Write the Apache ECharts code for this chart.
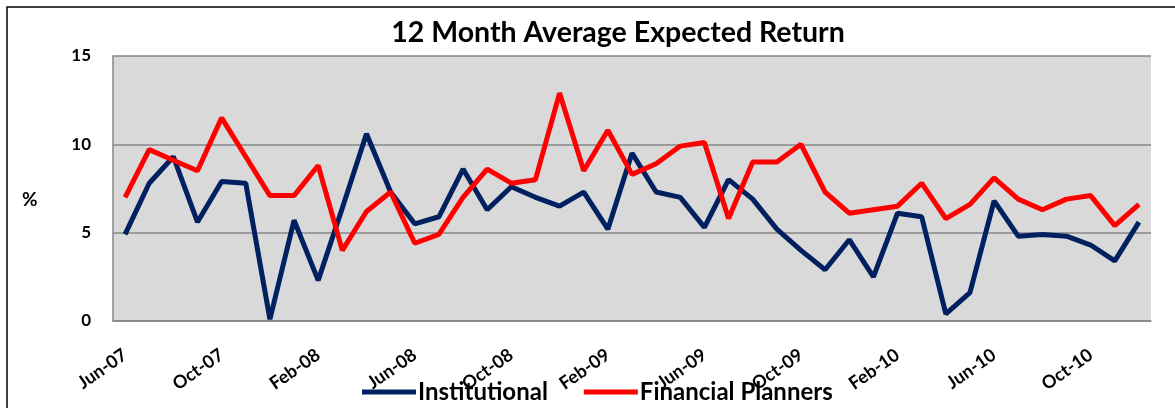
<!DOCTYPE html>
<html>
<head>
<meta charset="utf-8">
<script src="https://cdn.jsdelivr.net/npm/echarts@6/dist/echarts.min.js"></script>
<style>
  html, body { margin: 0; padding: 0; background: #fff; }
  #chart { width: 1175px; height: 408px; }
</style>
</head>
<body>
<div id="chart"></div>
<script>
// monthly, Jun-07 .. Dec-10
var months = [
  'Jun-07', 'Jul-07', 'Aug-07', 'Sep-07', 'Oct-07', 'Nov-07', 'Dec-07',
  'Jan-08', 'Feb-08', 'Mar-08', 'Apr-08', 'May-08', 'Jun-08', 'Jul-08', 'Aug-08', 'Sep-08', 'Oct-08', 'Nov-08', 'Dec-08',
  'Jan-09', 'Feb-09', 'Mar-09', 'Apr-09', 'May-09', 'Jun-09', 'Jul-09', 'Aug-09', 'Sep-09', 'Oct-09', 'Nov-09', 'Dec-09',
  'Jan-10', 'Feb-10', 'Mar-10', 'Apr-10', 'May-10', 'Jun-10', 'Jul-10', 'Aug-10', 'Sep-10', 'Oct-10', 'Nov-10', 'Dec-10'
]
var institutional = [
  4.9, 7.8, 9.3, 5.6, 7.9, 7.8, 0.1,
  5.7, 2.3, 6.4, 10.6, 7.3, 5.5, 5.9, 8.6, 6.3, 7.6, 7.0, 6.5,
  7.3, 5.2, 9.5, 7.3, 7.0, 5.3, 8.0, 6.9, 5.2, 4.0, 2.9, 4.6,
  2.5, 6.1, 5.9, 0.4, 1.6, 6.8, 4.8, 4.9, 4.8, 4.3, 3.4, 5.6
]
var planners = [
  7.0, 9.7, 9.1, 8.5, 11.5, 9.3, 7.1,
  7.1, 8.8, 4.0, 6.2, 7.3, 4.4, 4.9, 7.0, 8.6, 7.8, 8.0, 12.9,
  8.5, 10.8, 8.3, 8.9, 9.9, 10.1, 5.8, 9.0, 9.0, 10.0, 7.3, 6.1,
  6.3, 6.5, 7.8, 5.8, 6.6, 8.1, 6.9, 6.3, 6.9, 7.1, 5.4, 6.6
]
var seriesNames = ['Institutional', 'Financial Planners']

var font = 'Lato'
var chart = echarts.init(document.getElementById('chart'))
chart.setOption({
  animation: false,
  textStyle: { fontFamily: font },
  graphic: [{
    // outer chart border (cut off at right/bottom)
    type: 'rect',
    shape: { x: 7, y: 7, width: 1300, height: 600 },
    style: { fill: null, stroke: '#000', lineWidth: 1.5 },
    silent: true
  }, {
    type: 'text',
    left: 22, top: 190,
    style: { text: '%', font: 'bold 19px ' + font, fill: '#000' }
  }],
  title: {
    text: '12 Month Average Expected Return',
    left: 613, top: 13, textAlign: 'center',
    textStyle: { fontFamily: font, fontWeight: 'bold', fontSize: 28.5, color: '#000' }
  },
  legend: {
    data: seriesNames,
    left: 357, top: 375,
    icon: 'rect',
    itemWidth: 54, itemHeight: 5,
    itemGap: 36,
    textStyle: { fontFamily: font, fontWeight: 'bold', fontSize: 24, color: '#000', padding: [0, 0, 0, -3] }
  },
  grid: {
    left: 113, right: 24, top: 56, bottom: 87,
    show: true, backgroundColor: '#d9d9d9', borderWidth: 0
  },
  xAxis: {
    type: 'category',
    data: months,
    boundaryGap: true,
    axisLine: { lineStyle: { color: '#868686', width: 1.5 } },
    axisTick: { show: false },
    axisLabel: {
      interval: 3, rotate: 35, margin: 32,
      fontFamily: font, fontWeight: 'bold', fontSize: 18, color: '#000'
    }
  },
  yAxis: {
    type: 'value',
    min: 0, max: 15, interval: 5,
    axisLine: { show: true, lineStyle: { color: '#868686', width: 1.5 } },
    axisTick: { show: false },
    splitLine: { lineStyle: { color: '#868686', width: 1.5 } },
    axisLabel: { margin: 22, fontFamily: font, fontWeight: 'bold', fontSize: 17, color: '#000' }
  },
  series: [{
    name: seriesNames[0], type: 'line', data: institutional,
    showSymbol: false, symbol: 'none',
    itemStyle: { color: '#002060' },
    lineStyle: { color: '#002060', width: 5 }
  }, {
    name: seriesNames[1], type: 'line', data: planners,
    showSymbol: false, symbol: 'none',
    itemStyle: { color: '#ff0000' },
    lineStyle: { color: '#ff0000', width: 5 }
  }]
})
</script>
</body>
</html>
